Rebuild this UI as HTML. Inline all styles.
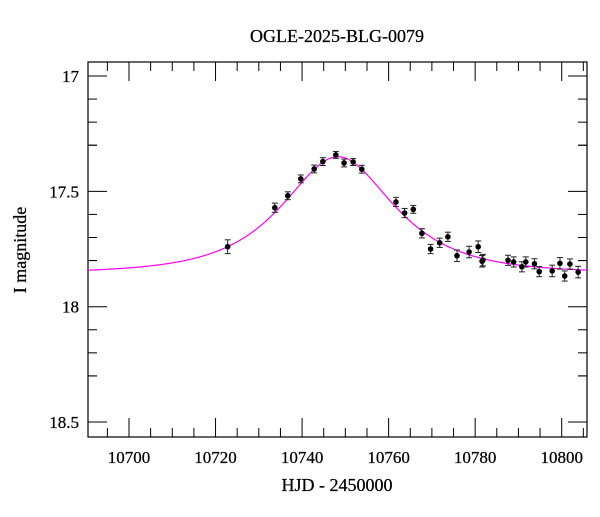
<!DOCTYPE html>
<html><head><meta charset="utf-8"><style>
body{margin:0;background:#fff}
svg text{font-family:"Liberation Serif",serif;fill:#000;stroke:#000;stroke-width:0.25}
</style></head><body>
<svg id="chart" width="600" height="512" viewBox="0 0 600 512">
<text x="337" y="42" font-size="18" text-anchor="middle">OGLE-2025-BLG-0079</text>
<text x="337" y="491" font-size="18" text-anchor="middle">HJD - 2450000</text>
<text transform="translate(26,250) rotate(-90)" font-size="18" text-anchor="middle">I magnitude</text>
<g id="axes"></g>
<g id="model"></g>
<g id="points"></g>
</svg>
<script>
const hjd=[10722.8,10733.7,10736.7,10739.7,10742.8,10744.8,10747.8,10749.7,10751.8,10753.8,10761.7,10763.7,10765.7,10767.7,10769.7,10771.8,10773.7,10775.8,10778.6,10780.7,10781.6,10781.8,10787.6,10788.9,10790.8,10791.7,10793.7,10794.8,10797.8,10799.6,10800.7,10801.9,10803.8];
const mag=[17.740,17.571,17.519,17.446,17.403,17.371,17.342,17.377,17.373,17.404,17.546,17.594,17.578,17.682,17.750,17.723,17.697,17.779,17.763,17.740,17.803,17.798,17.799,17.806,17.827,17.806,17.814,17.848,17.845,17.812,17.867,17.815,17.850];
const err=[0.03,0.02,0.017,0.017,0.017,0.017,0.015,0.017,0.015,0.017,0.02,0.02,0.017,0.02,0.02,0.02,0.02,0.025,0.025,0.025,0.025,0.025,0.022,0.022,0.022,0.022,0.022,0.022,0.025,0.025,0.022,0.022,0.025];
const xTicks=[10700,10720,10740,10760,10780,10800];
const yTicks=[17,17.5,18,18.5];
const model={t0:10748.3,tE:18,u0:0.755,I0:17.855};
const L=88,R=587,T=62,B=437,NS="http://www.w3.org/2000/svg";
const xs=d=>129+(d-10700)*4.327;
const ys=m=>76+(m-17)*230.7;
function mk(tag,attrs,parent){const e=document.createElementNS(NS,tag);for(const k in attrs)e.setAttribute(k,attrs[k]);parent.appendChild(e);return e;}
const ax=document.getElementById('axes');
const frame=mk('rect',{x:L,y:T,width:R-L,height:B-T,fill:'none',stroke:'#000','stroke-width':1.2},ax);


for(let d=10690;d<=10805;d+=5){const x=xs(d);if(x<L||x>R)continue;const big=d%20===0;const len=big?19:9;
mk('line',{x1:x,y1:B,x2:x,y2:B-len,stroke:'#000'},ax);mk('line',{x1:x,y1:T,x2:x,y2:T+len,stroke:'#000'},ax);}
xTicks.forEach(d=>{const t=mk('text',{x:xs(d),y:463,'font-size':17,'text-anchor':'middle'},ax);t.textContent=d;

});
for(let i=0;i<=16;i++){const m=16.95+i*0.1;const mm=Math.round(m*10)/10;if(mm<16.94||mm>18.56)continue;const y=ys(mm);const big=Math.abs(mm*2-Math.round(mm*2))<1e-6;const len=big?19:9;
mk('line',{x1:L,y1:y,x2:L+len,y2:y,stroke:'#000'},ax);mk('line',{x1:R,y1:y,x2:R-len,y2:y,stroke:'#000'},ax);}
yTicks.forEach(m=>{const t=mk('text',{x:79,y:ys(m)+6,'font-size':17,'text-anchor':'end'},ax);t.textContent=m;

});
function A(u){return (u*u+2)/(u*Math.sqrt(u*u+4));}
let p='';for(let x=L;x<=R;x+=1){const d=10700+(x-129)/4.327;const tau=(d-model.t0)/model.tE;const u=Math.sqrt(model.u0*model.u0+tau*tau);const m=model.I0-2.5*Math.log10(A(u));p+=(x===L?'M':'L')+x+' '+ys(m).toFixed(2);}
const mc=mk('path',{d:p,fill:'none',stroke:'#ff00ff','stroke-width':1.2},document.getElementById('model'));


const pg=document.getElementById('points');
hjd.forEach((d,i)=>{const x=xs(d),y=ys(mag[i]),y1=ys(mag[i]-err[i]),y2=ys(mag[i]+err[i]);
const g=mk('g',{},pg);


mk('line',{x1:x,y1:y1,x2:x,y2:y2,stroke:'#222'},g);
mk('line',{x1:x-3,y1:y1,x2:x+3,y2:y1,stroke:'#222'},g);
mk('line',{x1:x-3,y1:y2,x2:x+3,y2:y2,stroke:'#222'},g);
mk('circle',{cx:x,cy:y,r:2.8,fill:'#000'},g);});
</script>
</body></html>
